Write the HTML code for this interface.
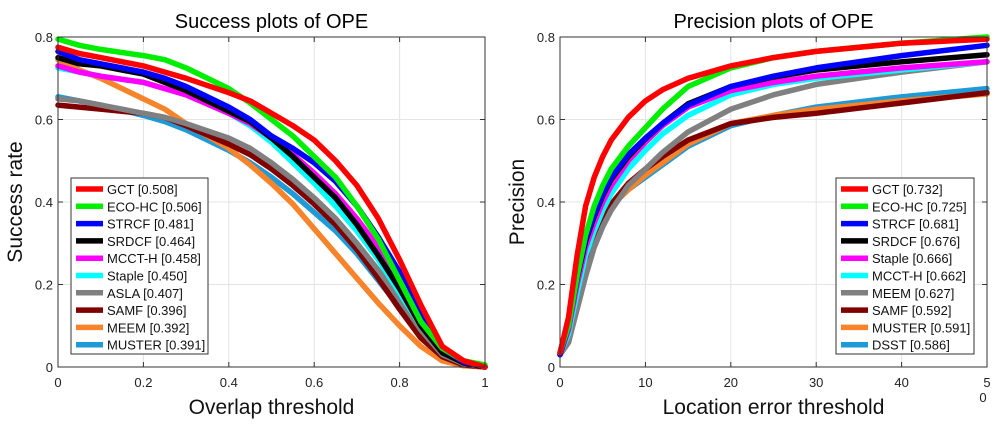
<!DOCTYPE html>
<html><head><meta charset="utf-8"><style>
body{margin:0;background:#fff;font-family:"Liberation Sans",sans-serif}
svg text{font-family:"Liberation Sans",sans-serif}
</style></head><body>
<svg id="chart" width="1007" height="423" viewBox="0 0 1007 423" xmlns="http://www.w3.org/2000/svg">
<rect width="1007" height="423" fill="#fff"/>
<g id="left"></g>
<g id="right"></g>
</svg>
<script>
const colors={GCT:'#ff0000','ECO-HC':'#00ee00',STRCF:'#0000ff',SRDCF:'#000000','MCCT-H':'#ff00ff',Staple:'#00ffff',ASLA:'#808080',SAMF:'#800000',MEEM:'#f7842a',MUSTER:'#1e9ad6',DSST:'#1e9ad6'};
const succX=[0,0.05,0.1,0.2,0.25,0.3,0.4,0.45,0.5,0.55,0.6,0.65,0.7,0.75,0.8,0.85,0.9,0.95,1];
const succNames=['GCT','ECO-HC','STRCF','SRDCF','MCCT-H','Staple','ASLA','SAMF','MEEM','MUSTER'];
const succScores=['0.508','0.506','0.481','0.464','0.458','0.450','0.407','0.396','0.392','0.391'];
const succGCT=[0.775,0.76,0.75,0.73,0.715,0.70,0.665,0.645,0.615,0.585,0.55,0.5,0.44,0.36,0.26,0.15,0.05,0.015,0];
const succECO=[0.795,0.78,0.77,0.755,0.745,0.725,0.675,0.64,0.60,0.56,0.51,0.46,0.39,0.31,0.21,0.11,0.045,0.015,0.005];
const succSTRCF=[0.765,0.745,0.735,0.715,0.70,0.68,0.63,0.60,0.56,0.53,0.495,0.45,0.39,0.315,0.23,0.13,0.045,0.012,0.002];
const succSRDCF=[0.75,0.735,0.73,0.71,0.69,0.67,0.62,0.595,0.555,0.51,0.46,0.41,0.345,0.27,0.19,0.10,0.035,0.01,0];
const succMCCT=[0.73,0.715,0.705,0.69,0.675,0.66,0.615,0.59,0.555,0.515,0.47,0.42,0.36,0.29,0.20,0.11,0.04,0.01,0];
const succStaple=[0.725,0.715,0.705,0.69,0.675,0.66,0.615,0.585,0.545,0.495,0.445,0.39,0.33,0.26,0.18,0.10,0.035,0.01,0];
const succASLA=[0.65,0.645,0.635,0.615,0.605,0.59,0.555,0.53,0.495,0.455,0.41,0.36,0.30,0.235,0.165,0.09,0.03,0.008,0];
const succSAMF=[0.635,0.63,0.625,0.615,0.605,0.585,0.54,0.515,0.48,0.44,0.395,0.345,0.285,0.215,0.14,0.07,0.025,0.005,0];
const succMEEM=[0.745,0.72,0.70,0.65,0.625,0.59,0.53,0.49,0.445,0.395,0.335,0.275,0.215,0.155,0.10,0.05,0.015,0.003,0];
const succMUSTER=[0.655,0.645,0.635,0.61,0.595,0.575,0.525,0.495,0.46,0.42,0.375,0.33,0.275,0.21,0.145,0.08,0.035,0.012,0];
const succSeries=[succGCT,succECO,succSTRCF,succSRDCF,succMCCT,succStaple,succASLA,succSAMF,succMEEM,succMUSTER];
const precX=[0,1,2,3,4,5,6,8,10,12,15,20,25,30,40,50];
const precNames=['GCT','ECO-HC','STRCF','SRDCF','Staple','MCCT-H','MEEM','SAMF','MUSTER','DSST'];
const precScores=['0.732','0.725','0.681','0.676','0.666','0.662','0.627','0.592','0.591','0.586'];
const precColorKeys=['GCT','ECO-HC','STRCF','SRDCF','MCCT-H','Staple','ASLA','SAMF','MEEM','DSST'];
const precGCT=[0.035,0.12,0.27,0.39,0.46,0.51,0.55,0.605,0.645,0.672,0.70,0.73,0.75,0.765,0.785,0.795];
const precECO=[0.035,0.10,0.22,0.32,0.39,0.44,0.48,0.535,0.58,0.625,0.68,0.725,0.75,0.765,0.785,0.80];
const precSTRCF=[0.03,0.10,0.22,0.31,0.37,0.42,0.46,0.515,0.555,0.59,0.635,0.68,0.705,0.725,0.755,0.78];
const precSRDCF=[0.03,0.10,0.215,0.305,0.365,0.415,0.455,0.51,0.553,0.59,0.638,0.68,0.703,0.72,0.74,0.757];
const precStaple=[0.03,0.09,0.20,0.29,0.35,0.40,0.44,0.50,0.545,0.585,0.63,0.67,0.69,0.705,0.725,0.74];
const precMCCT=[0.03,0.08,0.18,0.27,0.33,0.38,0.42,0.48,0.525,0.565,0.61,0.66,0.685,0.70,0.72,0.74];
const precMEEM=[0.03,0.06,0.14,0.22,0.29,0.34,0.38,0.44,0.48,0.52,0.57,0.625,0.66,0.685,0.715,0.74];
const precSAMF=[0.03,0.06,0.15,0.24,0.31,0.36,0.395,0.445,0.48,0.51,0.55,0.59,0.605,0.615,0.64,0.665];
const precMUSTER=[0.03,0.065,0.155,0.245,0.315,0.36,0.39,0.43,0.465,0.495,0.54,0.59,0.61,0.625,0.645,0.662];
const precDSST=[0.03,0.07,0.16,0.25,0.32,0.36,0.39,0.43,0.46,0.49,0.535,0.585,0.61,0.63,0.655,0.675];
const precSeries=[precGCT,precECO,precSTRCF,precSRDCF,precStaple,precMCCT,precMEEM,precSAMF,precMUSTER,precDSST];
const succXTicks=['0','0.2','0.4','0.6','0.8','1'];
const precXTicks=['0','10','20','30','40','5'];
const yTicks=['0','0.2','0.4','0.6','0.8'];
const NS='http://www.w3.org/2000/svg';
function mk(p,tag,a,txt){const e=document.createElementNS(NS,tag);for(const k in a)e.setAttribute(k,a[k]);if(txt!==undefined)e.textContent=txt;p.appendChild(e);return e;}
function plot(g,cfg){
  const x0=cfg.x0,x1=cfg.x1,y0=367,y1=37;
  const sx=v=>x0+(v-cfg.xmin)/(cfg.xmax-cfg.xmin)*(x1-x0);
  const sy=v=>y0-(v/0.8)*(y0-y1);
  const grid=mk(g,'g',{});
  
  
  cfg.xt.forEach((t,i)=>{const v=cfg.xmin+i*(cfg.xmax-cfg.xmin)/(cfg.xt.length-1);const X=sx(v);
    mk(grid,'line',{x1:X,x2:X,y1:y1,y2:y0,stroke:'#e4e4e4','stroke-width':1});
    mk(grid,'line',{x1:X,x2:X,y1:y0,y2:y0-5,stroke:'#333'});mk(grid,'line',{x1:X,x2:X,y1:y1,y2:y1+5,stroke:'#333'});
    const tl=mk(g,'text',{x:X,y:387,'font-size':13,'text-anchor':'middle',fill:'#222'},t);
    
    
  });
  yTicks.forEach((t,i)=>{const Y=sy(i*0.2);
    mk(grid,'line',{x1:x0,x2:x1,y1:Y,y2:Y,stroke:'#e4e4e4','stroke-width':1});
    mk(grid,'line',{x1:x0,x2:x0+5,y1:Y,y2:Y,stroke:'#333'});mk(grid,'line',{x1:x1,x2:x1-5,y1:Y,y2:Y,stroke:'#333'});
    const tl=mk(g,'text',{x:x0-5,y:Y+5,'font-size':13,'text-anchor':'end',fill:'#222'},t);
    
    
  });
  for(let i=cfg.series.length-1;i>=0;i--){
    const pts=cfg.series[i].map((v,j)=>sx(cfg.xs[j]).toFixed(1)+','+sy(v).toFixed(1)).join(' ');
    const pl=mk(g,'polyline',{points:pts,fill:'none',stroke:colors[cfg.ck[i]],'stroke-width':5.5,'stroke-linejoin':'round','stroke-linecap':'round'});
    
    
  }
  mk(g,'rect',{x:x0,y:y1,width:x1-x0,height:y0-y1,fill:'none',stroke:'#333','stroke-width':1});
  const t=mk(g,'text',{x:(x0+x1)/2,y:28,'font-size':20,'text-anchor':'middle',fill:'#000'},cfg.title);
  
  
  const xl=mk(g,'text',{x:(x0+x1)/2,y:414,'font-size':21,'text-anchor':'middle',fill:'#111'},cfg.xlabel);
  
  
  const yl=mk(g,'text',{x:0,y:0,'font-size':21,'text-anchor':'middle',fill:'#111',transform:'translate('+(x0-36)+',202) rotate(-90)'},cfg.ylabel);
  
  
  const lg=mk(g,'g',{});
  
  
  mk(lg,'rect',{x:cfg.lx,y:178,width:cfg.lw,height:176,fill:'#fff',stroke:'#333'});
  cfg.names.forEach((n,i)=>{const Y=189+i*17.3;
    const e=mk(lg,'g',{});
    
    
    mk(e,'line',{x1:cfg.lx+5,x2:cfg.lx+32,y1:Y,y2:Y,stroke:colors[cfg.ck[i]],'stroke-width':5.5});
    mk(e,'text',{x:cfg.lx+36,y:Y+5,'font-size':13,fill:'#111'},n+' ['+cfg.sc[i]+']');
  });
}
plot(document.getElementById('left'),{x0:58,x1:485,xmin:0,xmax:1,xs:succX,series:succSeries,names:succNames,ck:succNames,sc:succScores,xt:succXTicks,title:'Success plots of OPE',xlabel:'Overlap threshold',ylabel:'Success rate',lx:71,lw:137});
plot(document.getElementById('right'),{x0:560,x1:987,xmin:0,xmax:50,xs:precX,series:precSeries,names:precNames,ck:precColorKeys,sc:precScores,xt:precXTicks,title:'Precision plots of OPE',xlabel:'Location error threshold',ylabel:'Precision',lx:836,lw:138});
const z=mk(document.getElementById('right'),'text',{x:983,y:402,'font-size':13,'text-anchor':'middle',fill:'#222'},'0');


</script>
</body></html>
